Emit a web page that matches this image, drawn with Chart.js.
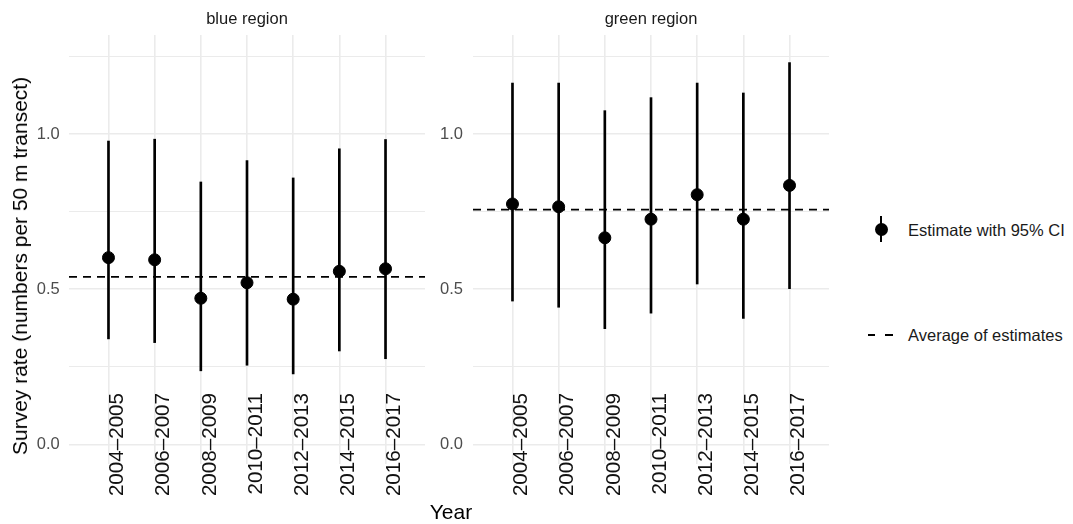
<!DOCTYPE html>
<html>
<head>
<meta charset="utf-8">
<script src="https://cdn.jsdelivr.net/npm/chart.js@4.4.0/dist/chart.umd.min.js"></script>
<style>
html,body{margin:0;padding:0;background:#fff;}
body{width:1073px;height:524px;position:relative;overflow:hidden;font-family:"Liberation Sans",Arial,Helvetica,sans-serif;}
canvas{position:absolute;top:0;}
#cA{left:0;}
#cB{left:432px;}
.txt{position:absolute;white-space:nowrap;color:#000;}
#ytitle{left:20px;top:266px;font-size:21px;transform:translate(-50%,-50%) rotate(-90deg);}
#xtitle{left:451px;top:512px;font-size:21px;transform:translate(-50%,-50%);}
.leg{left:908px;font-size:16.5px;color:#1a1a1a;transform:translateY(-50%);}
#keyPt{position:absolute;left:874.5px;top:223px;width:13px;height:13px;border-radius:50%;background:#000;}
#keyBar{position:absolute;left:880px;top:216px;width:2px;height:26px;background:#000;}
.dash{position:absolute;top:334px;height:2px;background:#000;}
</style>
</head>
<body>
<canvas id="cA" width="432" height="524"></canvas>
<canvas id="cB" width="404" height="524"></canvas>
<div class="txt" id="ytitle">Survey rate (numbers per 50 m transect)</div>
<div class="txt" id="xtitle">Year</div>
<div id="keyBar"></div><div id="keyPt"></div>
<div class="txt leg" style="top:230px;">Estimate with 95% CI</div>
<div class="dash" style="left:868px;width:7px;"></div>
<div class="dash" style="left:885px;width:8px;"></div>
<div class="txt leg" style="top:335px;">Average of estimates</div>
<script>
// ---- data ----
const CATEGORIES = ['2004–2005','2006–2007','2008–2009','2010–2011','2012–2013','2014–2015','2016–2017'];
const BLUE_EST = [0.602, 0.595, 0.471, 0.521, 0.468, 0.558, 0.566];
const BLUE_LO  = [0.340, 0.328, 0.237, 0.255, 0.227, 0.301, 0.276];
const BLUE_HI  = [0.978, 0.984, 0.846, 0.915, 0.859, 0.953, 0.983];
const GREEN_EST = [0.775, 0.766, 0.666, 0.726, 0.805, 0.726, 0.835];
const GREEN_LO  = [0.462, 0.442, 0.373, 0.423, 0.517, 0.406, 0.502];
const GREEN_HI  = [1.165, 1.165, 1.076, 1.118, 1.165, 1.133, 1.231];
const Y_TICKS = [0, 0.25, 0.5, 0.75, 1.0, 1.25];
const Y_LABELED = [0, 0.5, 1.0];

// ---- scale limits ----
const XMIN = -0.855, XMAX = 6.855;
const YMIN = -0.0635, YMAX = 1.32;

const mean = a => a.reduce((s, v) => s + v, 0) / a.length;
const noPad = s => { s.paddingLeft = 0; s.paddingRight = 0; s.paddingTop = 0; s.paddingBottom = 0; };

function makeChart(id, title, est, lo, hi, yWidth, yPad) {
  const avg = mean(est);
  return new Chart(document.getElementById(id), {
    type: 'scatter',
    data: {
      datasets: [
        {
          type: 'scatter', order: 0,
          data: est.map((v, i) => ({x: i, y: v})),
          pointRadius: 6, pointBackgroundColor: '#000', pointBorderColor: '#000', pointBorderWidth: 1
        },
        {
          type: 'line', order: 1,
          data: [{x: XMIN, y: avg}, {x: XMAX, y: avg}],
          borderColor: '#000', borderWidth: 1.7, borderDash: [8, 6], pointRadius: 0, fill: false
        },
        {
          type: 'bar', order: 2,
          data: lo.map((l, i) => ({x: i, y: [l, hi[i]]})),
          backgroundColor: '#000', borderWidth: 0, barThickness: 2
        }
      ]
    },
    options: {
      responsive: false, animation: false, devicePixelRatio: 1, events: [],
      layout: {padding: {left: 0, right: 2, top: 0, bottom: 0}},
      plugins: {
        legend: {display: false}, tooltip: {enabled: false},
        title: {
          display: true, text: title, fullSize: false, color: '#1a1a1a',
          font: {family: '"Liberation Sans", Arial, sans-serif', size: 16.5, weight: 'normal'},
          padding: {top: 10, bottom: 5.2}
        }
      },
      scales: {
        x: {
          type: 'linear', min: XMIN, max: XMAX, offset: false,
          afterBuildTicks: s => { s.ticks = CATEGORIES.map((c, i) => ({value: i})); },
          afterFit: s => { s.height = 60; noPad(s); },
          grid: {color: '#EBEBEB', lineWidth: 1.6, drawTicks: false, offset: false},
          border: {display: false},
          ticks: {
            autoSkip: false, minRotation: 90, maxRotation: 90, padding: 71, mirror: true,
            color: '#111',
            font: {family: '"Liberation Sans", Arial, sans-serif', size: 20.6, lineHeight: 0.437},
            callback: v => ['', '', CATEGORIES[v]]
          }
        },
        y: {
          type: 'linear', min: YMIN, max: YMAX,
          afterBuildTicks: s => { s.ticks = Y_TICKS.map(v => ({value: v})); },
          afterFit: s => { s.width = yWidth; noPad(s); },
          grid: {
            color: '#EBEBEB', drawTicks: false,
            lineWidth: c => (Y_LABELED.includes(c.tick.value) ? 1.6 : 1)
          },
          border: {display: false},
          ticks: {
            padding: yPad, color: '#4D4D4D',
            font: {family: '"Liberation Sans", Arial, sans-serif', size: 16.5},
            callback: v => (Y_LABELED.includes(v) ? v.toFixed(1) : '')
          }
        }
      }
    }
  });
}

makeChart('cA', 'blue region', BLUE_EST, BLUE_LO, BLUE_HI, 69, 9.3);
makeChart('cB', 'green region', GREEN_EST, GREEN_LO, GREEN_HI, 41, 10);
</script>
</body>
</html>
